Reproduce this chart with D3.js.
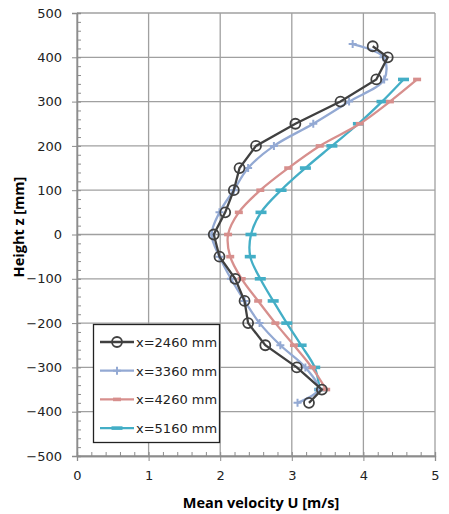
<!DOCTYPE html>
<html>
<head>
<meta charset="utf-8">
<script src="https://cdn.jsdelivr.net/npm/d3@7"></script>
<style>
  body { margin: 0; background: #fff; }
  svg { display: block; }
</style>
</head>
<body>
<div id="chart"></div>
<script>
// heights (mm) and mean velocity U (m/s) per station
const z2460 = [425, 400, 350, 300, 250, 200, 150, 100, 50, 0, -50, -100, -150, -200, -250, -300, -350, -380];
const u2460 = [4.13, 4.34, 4.18, 3.68, 3.05, 2.50, 2.27, 2.19, 2.07, 1.91, 1.99, 2.21, 2.34, 2.39, 2.63, 3.07, 3.42, 3.24];
const z3360 = [430, 400, 350, 300, 250, 200, 150, 100, 50, 0, -50, -100, -150, -200, -250, -300, -350, -380];
const u3360 = [3.85, 4.28, 4.29, 3.80, 3.30, 2.75, 2.39, 2.19, 1.99, 1.88, 1.99, 2.15, 2.34, 2.55, 2.84, 3.19, 3.37, 3.08];
const z4260 = [350, 300, 250, 200, 150, 100, 50, 0, -50, -100, -150, -200, -250, -300, -350];
const u4260 = [4.75, 4.37, 3.95, 3.39, 2.95, 2.56, 2.26, 2.11, 2.14, 2.30, 2.53, 2.77, 3.03, 3.28, 3.48];
const z5160 = [350, 300, 250, 200, 150, 100, 50, 0, -50, -100, -150, -200, -250, -300, -350];
const u5160 = [4.56, 4.26, 3.93, 3.56, 3.19, 2.85, 2.57, 2.43, 2.42, 2.56, 2.74, 2.93, 3.13, 3.32, 3.39];
const seriesNames = ["x=2460 mm", "x=3360 mm", "x=4260 mm", "x=5160 mm"];
const xTicks = [0, 1, 2, 3, 4, 5];
const yTicks = [-500, -400, -300, -200, -100, 0, 100, 200, 300, 400, 500];

const width = 449, height = 514;
const margin = {left: 77, right: 14, top: 13, bottom: 58};
const font = "'DejaVu Sans', sans-serif";
const titleFont = "'Open Sans', sans-serif";

const svg = d3.select("#chart").append("svg")
  .attr("width", width).attr("height", height);

let x = d3.scaleLinear().domain([0, 5]).range([margin.left, width - margin.right]);
let y = d3.scaleLinear().domain([-500, 500]).range([height - margin.bottom, margin.top]);

// grid
svg.append("g").selectAll("line").data(xTicks).join("line")
  .attr("x1", d => x(d)).attr("x2", d => x(d))
  .attr("y1", y(-500)).attr("y2", y(500))
  .attr("stroke", "#a0a0a0").attr("stroke-width", 1.3);
svg.append("g").selectAll("line").data(yTicks).join("line")
  .attr("x1", x(0)).attr("x2", x(5))
  .attr("y1", d => y(d)).attr("y2", d => y(d))
  .attr("stroke", "#a0a0a0").attr("stroke-width", 1.3);

// axes with minor ticks inside
let xAxis = svg.append("g").attr("transform", `translate(0,${y(-500)})`)
  .call(d3.axisBottom(x).tickValues(xTicks).tickFormat(d3.format("d")).tickSize(5).tickPadding(10));
let xMinor = svg.append("g").attr("transform", `translate(0,${y(-500)})`)
  .call(d3.axisTop(x).tickValues(d3.range(0, 5.001, 0.2)).tickFormat("").tickSize(4));
let yAxis = svg.append("g").attr("transform", `translate(${x(0)},0)`)
  .call(d3.axisLeft(y).tickValues(yTicks).tickFormat(d3.format("d")).tickSize(5).tickPadding(10));
let yMinor = svg.append("g").attr("transform", `translate(${x(0)},0)`)
  .call(d3.axisRight(y).tickValues(d3.range(-500, 501, 20)).tickFormat("").tickSize(4));
[xAxis, xMinor, yAxis, yMinor].forEach(g => {
  g.select(".domain").attr("stroke", "#8c8c8c").attr("stroke-width", 1.3);
  g.selectAll(".tick line").attr("stroke", "#8c8c8c").attr("stroke-width", 1);
  g.selectAll("text").attr("font-family", font).attr("font-size", 13).attr("fill", "#222");
});

// axis titles
svg.append("text")
  .attr("x", 261).attr("y", 508)
  .attr("text-anchor", "middle")
  .style("font-family", titleFont)
  .style("font-weight", "bold").style("font-size", "14.5px")
  .text("Mean velocity U [m/s]");
svg.append("text")
  .attr("transform", "translate(24,227) rotate(-90)")
  .attr("text-anchor", "middle")
  .style("font-family", titleFont)
  .style("font-weight", "bold").style("font-size", "14.5px")
  .text("Height z [mm]");

const series = [
  {z: z2460, u: u2460, color: "#404040", curve: d3.curveLinear, marker: "circle"},
  {z: z3360, u: u3360, color: "#93a9d3", curve: d3.curveCatmullRom, marker: "plus"},
  {z: z4260, u: u4260, color: "#d78f8d", curve: d3.curveCatmullRom, marker: "dash"},
  {z: z5160, u: u5160, color: "#43aec6", curve: d3.curveCatmullRom, marker: "wide"}
];

function drawMarker(g, kind, cx, cy, color){
  if(kind === "circle"){
    g.append("circle").attr("cx", cx).attr("cy", cy).attr("r", 5)
      .attr("fill", "none").attr("stroke", color).attr("stroke-width", 1.8);
  } else if(kind === "plus"){
    g.append("path").attr("d", `M${cx-4},${cy}H${cx+4}M${cx},${cy-4}V${cy+4}`)
      .attr("stroke", color).attr("stroke-width", 2);
  } else if(kind === "dash"){
    g.append("rect").attr("x", cx-4).attr("y", cy-1.8).attr("width", 8).attr("height", 3.6)
      .attr("fill", color);
  } else {
    g.append("rect").attr("x", cx-5.5).attr("y", cy-1.8).attr("width", 11).attr("height", 3.6)
      .attr("fill", color);
  }
}

// draw back-to-front so black sits on top
[3, 2, 1, 0].forEach(i => {
  let s = series[i];
  let pts = s.z.map((zz, k) => [s.u[k], zz]);
  let line = d3.line().x(d => x(d[0])).y(d => y(d[1])).curve(s.curve);
  let g = svg.append("g");
  g.append("path").datum(pts).attr("d", line)
    .attr("fill", "none").attr("stroke", s.color).attr("stroke-width", 2.3);
  pts.forEach(p => drawMarker(g, s.marker, x(p[0]), y(p[1]), s.color));
});

// legend
let legend = svg.append("g").attr("id", "legend");
legend.append("rect")
  .attr("x", 93.5).attr("y", 324.5).attr("width", 126).attr("height", 118)
  .attr("fill", "white").attr("stroke", "#222").attr("stroke-width", 1.3);
seriesNames.forEach((name, i) => {
  let ly = 342 + i * 28.7;
  legend.append("line")
    .attr("x1", 100).attr("x2", 134).attr("y1", ly).attr("y2", ly)
    .attr("stroke", series[i].color).attr("stroke-width", 2.3);
  drawMarker(legend, series[i].marker, 117, ly, series[i].color);
  legend.append("text")
    .attr("x", 136).attr("y", ly + 5)
    .style("font-family", font).style("font-size", "13px").style("fill", "#222")
    .text(name);
});
</script>
</body>
</html>
